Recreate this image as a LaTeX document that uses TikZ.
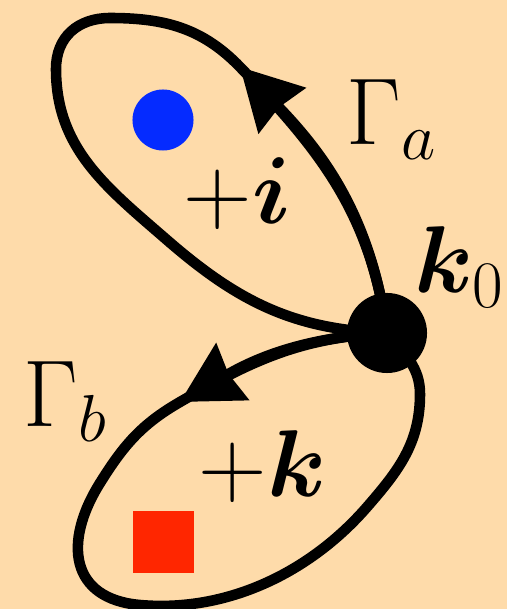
\RequirePackage{fix-cm}
\documentclass[tikz,border=0pt]{standalone}
\usepackage{bm}
\usetikzlibrary{arrows.meta}
\definecolor{peach}{RGB}{254,219,170}
\definecolor{dotblue}{RGB}{5,43,255}
\definecolor{sqred}{RGB}{255,38,0}
\begin{document}
\begin{tikzpicture}[x=0.01cm,y=0.01cm,line join=round,line cap=round,
	contour/.style={line width=3pt},
	flow/.style={-{Stealth[length=6mm,width=6.4mm,inset=0.4mm]}},
	lbl/.style={anchor=base west,inner sep=0pt,font=\fontsize{27}{30}\selectfont}]
	\useasboundingbox (0,0) rectangle (507,609);
	\fill[peach] (0,0) rectangle (507,609);
	\coordinate (k0) at (387,276);
	\coordinate (tipa) at (240,542);
	\coordinate (tipb) at (180,207);
	%upper loop
	\draw[contour] (k0) to[out=98,in=-46] (tipa)
		to[out=134,in=0] (110,591)
		to[out=180,in=90,looseness=1.1] (56,540)
		to[out=-90,in=139] (167,369)
		to[out=-41,in=178] (k0);
	\draw[contour,flow] (k0) to[out=98,in=-46] (tipa);
	%lower loop
	\draw[contour] (k0) to[out=183,in=30] (tipb)
		to[out=210,in=58] (100,126)
		to[out=238,in=175,looseness=1.4] (140,4)
		to[out=-5,in=-131,looseness=0.9] (367,102)
		to[out=49,in=-90] (420,215)
		to[out=90,in=-50] (k0);
	\draw[contour,flow] (k0) to[out=183,in=30] (tipb);
	\node[circle,fill=black,inner sep=0pt,minimum size=8mm] (dot) at (k0) {};
	\node[circle,fill=dotblue,inner sep=0pt,minimum size=6.1mm] (pole) at (163,489) {};
	\node[fill=sqred,inner sep=0pt,minimum size=6.1mm] (zero) at (163.5,67) {};
	\node[lbl] (ga) at (346,464) {$\Gamma_a$};
	\node[lbl] (gb) at (23,182) {$\Gamma_b$};
	\node[lbl] (kk) at (414,316) {$\bm{k}_0$};
	\node[lbl] (pi) at (183,385) {$+\bm{i}$};
	\node[lbl] (pk) at (198,112) {$+\bm{k}$};
\end{tikzpicture}
\end{document}
